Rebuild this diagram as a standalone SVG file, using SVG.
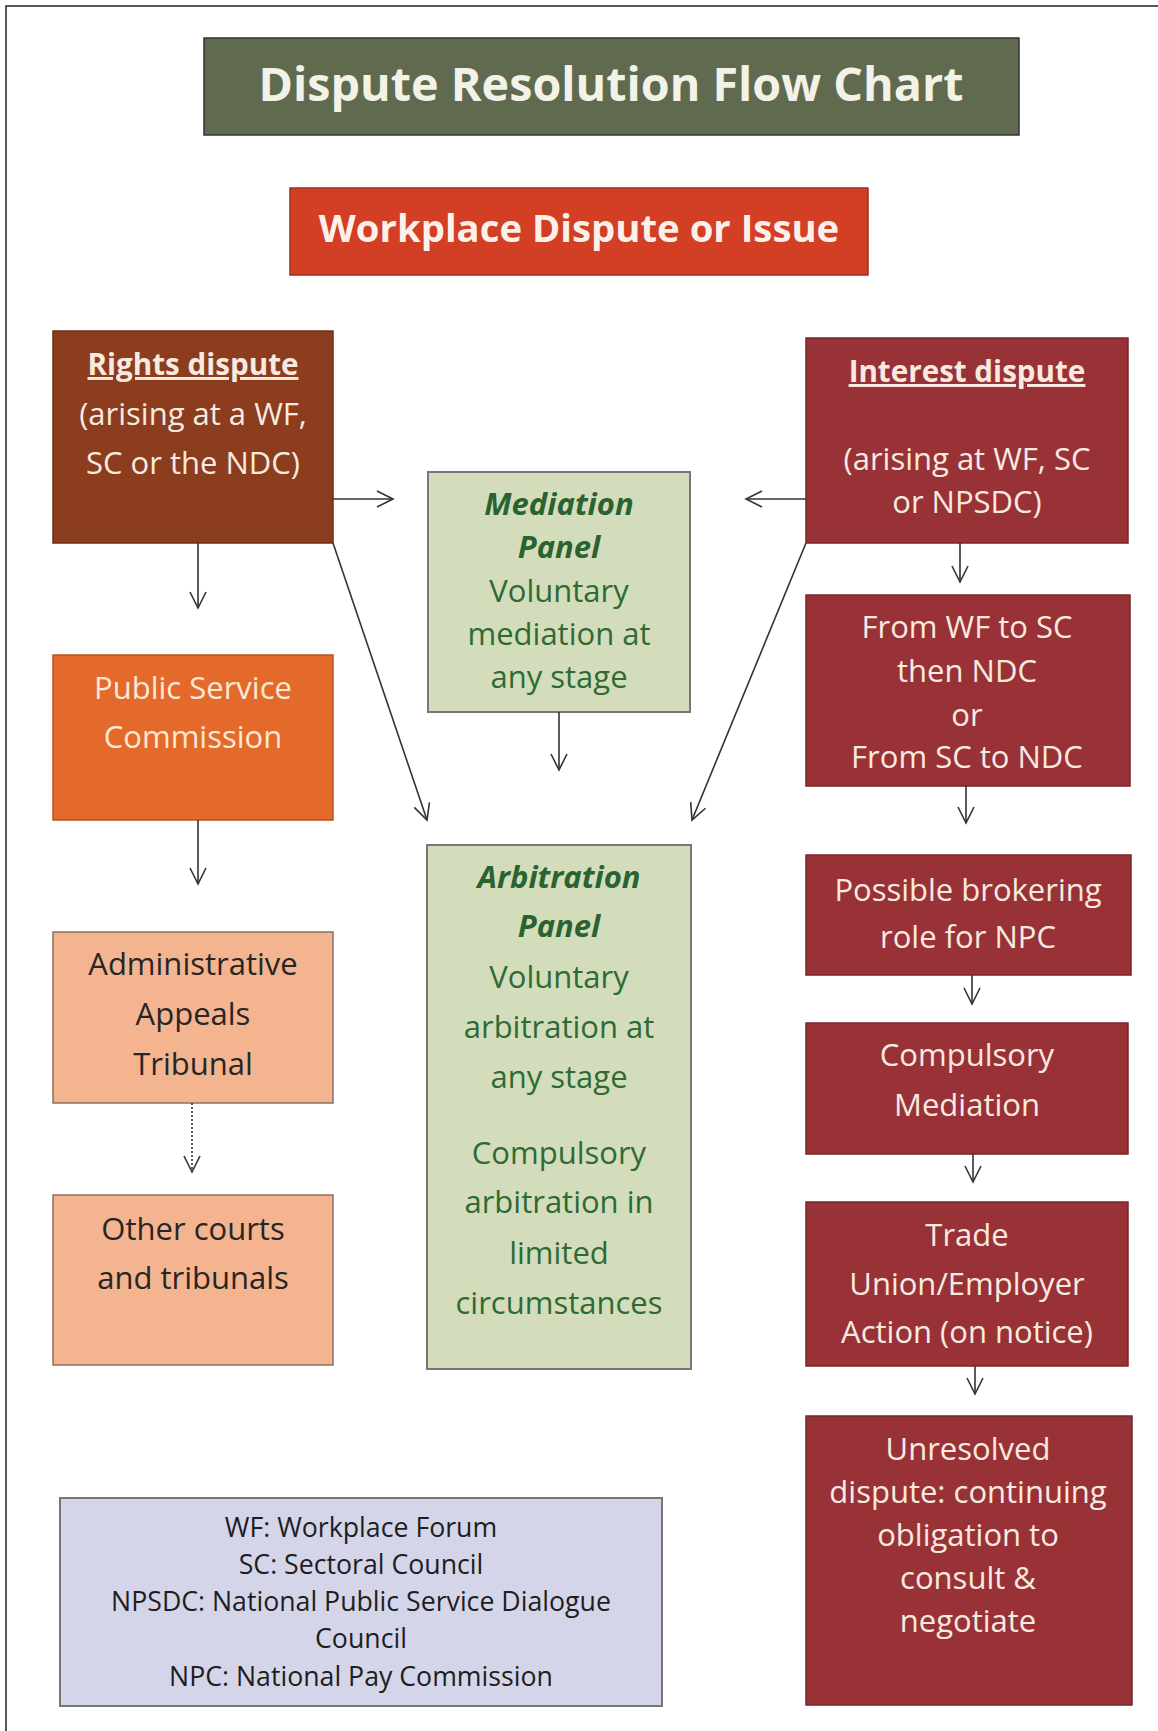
<svg xmlns="http://www.w3.org/2000/svg" width="1158" height="1731" viewBox="0 0 1158 1731">
<defs>
<style>
text{font-family:"Open Sans","Liberation Sans",sans-serif;font-size:31px;text-anchor:middle}
.light{fill:#F8EAE0}
.dark{fill:#262626}
.green{fill:#2E6A35}
.gtitle{fill:#2A6330;font-weight:bold;font-style:italic}
.b{font-weight:bold;font-size:29.6px}
.u{text-decoration:underline}
.legend{font-size:26.7px;fill:#1e1e1e}
.box{stroke-width:1.5}
.conn{fill:none;stroke:#333;stroke-width:1.6}
.dotted{stroke-dasharray:2 2}
</style>
<marker id="arrow" viewBox="0 0 20 20" markerWidth="20" markerHeight="20" refX="18" refY="10" orient="auto" markerUnits="userSpaceOnUse">
<path d="M2,2 L18,10 L2,18" fill="none" stroke="#333" stroke-width="1.6"/>
</marker>
</defs>
<rect width="1158" height="1731" fill="#ffffff"/>
<path d="M6,1731 V6 H1158" fill="none" stroke="#222" stroke-width="1.5"/>

<g id="title">
<rect class="box" x="204" y="38" width="815" height="97" fill="#5F6A4F" stroke="#333"/>
<text x="611" y="101" style="font-size:46.7px;font-weight:bold;fill:#F2F2E8">Dispute Resolution Flow Chart</text>
</g>

<g id="workplace">
<rect class="box" x="290" y="188" width="578" height="87" fill="#D23F25" stroke="#9a3020"/>
<text x="579" y="242" style="font-size:38.3px;font-weight:bold;fill:#FBF0EA">Workplace Dispute or Issue</text>
</g>

<g id="rights">
<rect class="box" x="53" y="331" width="280" height="212" fill="#8B3D1E" stroke="#6e2f16"/>
<text x="193" y="375" class="light b u">Rights dispute</text>
<text x="193" y="425" class="light">(arising at a WF,</text>
<text x="193" y="474" class="light">SC or the NDC)</text>
</g>

<g id="psc">
<rect class="box" x="53" y="655" width="280" height="165" fill="#E46A2B" stroke="#b7531f"/>
<text x="193" y="699" style="fill:#FBE8D6">Public Service</text>
<text x="193" y="748" style="fill:#FBE8D6">Commission</text>
</g>

<g id="admin">
<rect class="box" x="53" y="932" width="280" height="171" fill="#F4B48F" stroke="#8a7060"/>
<text x="193" y="975" class="dark">Administrative</text>
<text x="193" y="1025" class="dark">Appeals</text>
<text x="193" y="1075" class="dark">Tribunal</text>
</g>

<g id="other">
<rect class="box" x="53" y="1195" width="280" height="170" fill="#F4B48F" stroke="#8a7060"/>
<text x="193" y="1240" class="dark">Other courts</text>
<text x="193" y="1289" class="dark">and tribunals</text>
</g>

<g id="mediation">
<rect x="428" y="472" width="262" height="240" fill="#D4DDBB" stroke="#777" stroke-width="2"/>
<text x="559" y="515" class="gtitle">Mediation</text>
<text x="559" y="558" class="gtitle">Panel</text>
<text x="559" y="602" class="green">Voluntary</text>
<text x="559" y="645" class="green">mediation at</text>
<text x="559" y="688" class="green">any stage</text>
</g>

<g id="arbitration">
<rect x="427" y="845" width="264" height="524" fill="#D4DDBB" stroke="#777" stroke-width="2"/>
<text x="559" y="888" class="gtitle">Arbitration</text>
<text x="559" y="937" class="gtitle">Panel</text>
<text x="559" y="988" class="green">Voluntary</text>
<text x="559" y="1038" class="green">arbitration at</text>
<text x="559" y="1088" class="green">any stage</text>
<text x="559" y="1164" class="green">Compulsory</text>
<text x="559" y="1213" class="green">arbitration in</text>
<text x="559" y="1264" class="green">limited</text>
<text x="559" y="1314" class="green">circumstances</text>
</g>

<g id="interest">
<rect class="box" x="806" y="338" width="322" height="205" fill="#993236" stroke="#7a262a"/>
<text x="967" y="382" class="light b u">Interest dispute</text>
<text x="967" y="470" class="light">(arising at WF, SC</text>
<text x="967" y="513" class="light">or NPSDC)</text>
</g>

<g id="fromwf">
<rect class="box" x="806" y="595" width="324" height="191" fill="#993236" stroke="#7a262a"/>
<text x="967" y="638" class="light">From WF to SC</text>
<text x="967" y="682" class="light">then NDC</text>
<text x="967" y="726" class="light">or</text>
<text x="967" y="768" class="light">From SC to NDC</text>
</g>

<g id="possible">
<rect class="box" x="806" y="855" width="325" height="120" fill="#993236" stroke="#7a262a"/>
<text x="968" y="901" class="light">Possible brokering</text>
<text x="968" y="948" class="light">role for NPC</text>
</g>

<g id="compulsory">
<rect class="box" x="806" y="1023" width="322" height="131" fill="#993236" stroke="#7a262a"/>
<text x="967" y="1066" class="light">Compulsory</text>
<text x="967" y="1116" class="light">Mediation</text>
</g>

<g id="trade">
<rect class="box" x="806" y="1202" width="322" height="164" fill="#993236" stroke="#7a262a"/>
<text x="967" y="1246" class="light">Trade</text>
<text x="967" y="1295" class="light">Union/Employer</text>
<text x="967" y="1343" class="light">Action (on notice)</text>
</g>

<g id="unresolved">
<rect class="box" x="806" y="1416" width="326" height="289" fill="#993236" stroke="#6e2a2c"/>
<text x="968" y="1460" class="light">Unresolved</text>
<text x="968" y="1503" class="light">dispute: continuing</text>
<text x="968" y="1546" class="light">obligation to</text>
<text x="968" y="1589" class="light">consult &amp;</text>
<text x="968" y="1632" class="light">negotiate</text>
</g>

<g id="legend">
<rect x="60" y="1498" width="602" height="208" fill="#D5D5EA" stroke="#777" stroke-width="2"/>
<text x="361" y="1537" class="legend">WF: Workplace Forum</text>
<text x="361" y="1574" class="legend">SC: Sectoral Council</text>
<text x="361" y="1611" class="legend">NPSDC: National Public Service Dialogue</text>
<text x="361" y="1648" class="legend">Council</text>
<text x="361" y="1686" class="legend">NPC: National Pay Commission</text>
</g>

<g id="connectors">
<path class="conn" d="M198,543 V608" marker-end="url(#arrow)"/>
<path class="conn" d="M198,820 V884" marker-end="url(#arrow)"/>
<path class="conn dotted" d="M192,1103 V1172" marker-end="url(#arrow)"/>
<path class="conn" d="M333,499 H393" marker-end="url(#arrow)"/>
<path class="conn" d="M333,543 L427,820" marker-end="url(#arrow)"/>
<path class="conn" d="M559,712 V770" marker-end="url(#arrow)"/>
<path class="conn" d="M806,499 H746" marker-end="url(#arrow)"/>
<path class="conn" d="M806,543 L692,820" marker-end="url(#arrow)"/>
<path class="conn" d="M960,543 V582" marker-end="url(#arrow)"/>
<path class="conn" d="M966,786 V823" marker-end="url(#arrow)"/>
<path class="conn" d="M972,975 V1004" marker-end="url(#arrow)"/>
<path class="conn" d="M973,1154 V1182" marker-end="url(#arrow)"/>
<path class="conn" d="M975,1366 V1394" marker-end="url(#arrow)"/>
</g>
</svg>
